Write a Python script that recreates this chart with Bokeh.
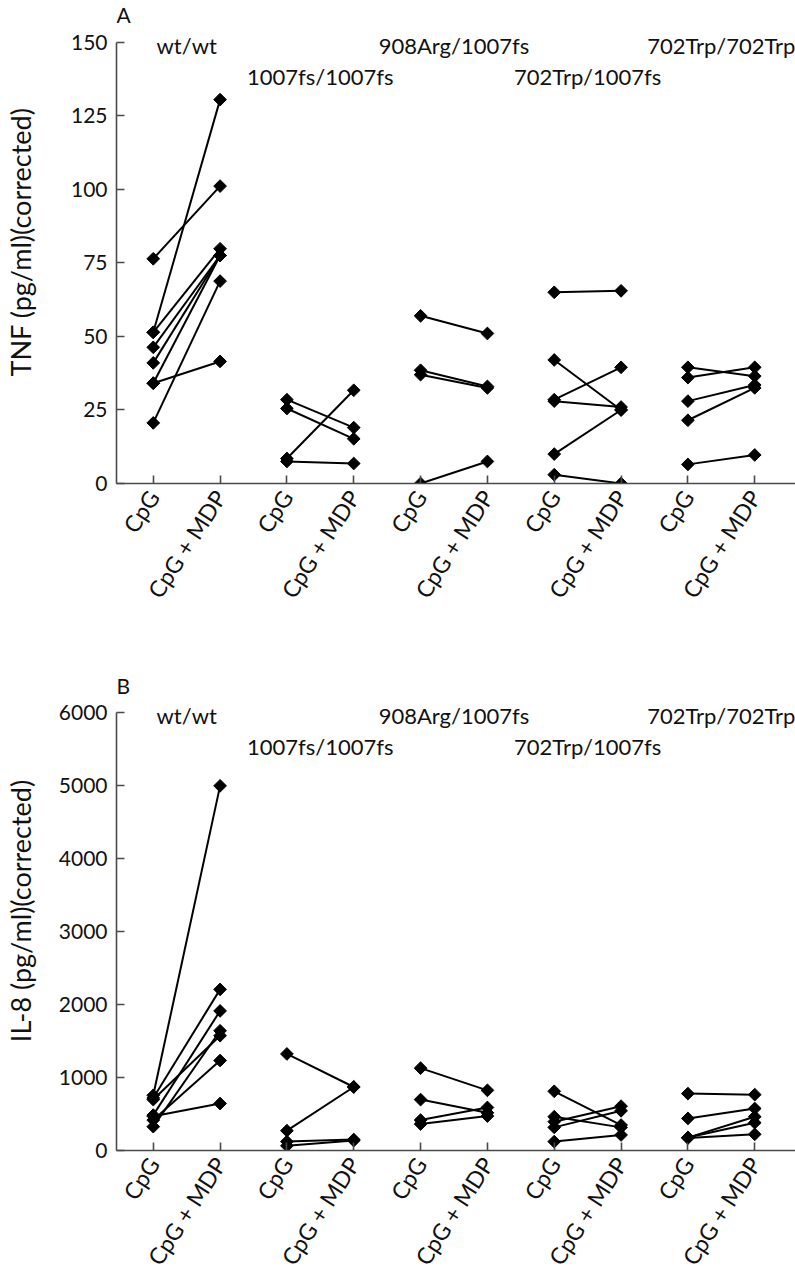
import math
from bokeh.plotting import figure
from bokeh.models import FixedTicker, Range1d, LabelSet, Label, ColumnDataSource
from bokeh.core.properties import value
from bokeh.layouts import column
from bokeh.embed import file_html
from bokeh.resources import INLINE

# ---------------- data ----------------
groups = ["wt/wt", "1007fs/1007fs", "908Arg/1007fs", "702Trp/1007fs", "702Trp/702Trp"]
conditions = ["CpG", "CpG + MDP"]

# Panel A: TNF (pg/ml)(corrected)
tnf_wt_cpg = [76.4, 51.4, 51.4, 46.3, 41.0, 34.1, 34.1, 20.6]
tnf_wt_mdp = [101.1, 130.5, 79.8, 77.5, 77.5, 77.5, 41.5, 68.8]
tnf_1007_cpg = [28.5, 25.5, 8.5, 7.5]
tnf_1007_mdp = [19.0, 15.2, 31.7, 6.8]
tnf_908_cpg = [57.0, 38.5, 37.0, 0.0]
tnf_908_mdp = [51.0, 33.0, 32.5, 7.5]
tnf_702het_cpg = [65.0, 42.0, 28.5, 28.0, 10.0, 3.0]
tnf_702het_mdp = [65.5, 25.0, 39.5, 26.0, 25.0, 0.0]
tnf_702hom_cpg = [39.5, 36.0, 28.0, 21.5, 6.5]
tnf_702hom_mdp = [36.5, 39.5, 33.5, 32.5, 9.7]

# Panel B: IL-8 (pg/ml)(corrected)
il8_wt_cpg = [757, 720, 698, 485, 470, 417, 327]
il8_wt_mdp = [5000, 2209, 1574, 1914, 644, 1234, 1642]
il8_1007_cpg = [1324, 272, 122, 64]
il8_1007_mdp = [871, 871, 150, 136]
il8_908_cpg = [1129, 698, 417, 363]
il8_908_mdp = [825, 517, 590, 472]
il8_702het_cpg = [812, 463, 395, 317, 122]
il8_702het_mdp = [349, 317, 608, 544, 213]
il8_702hom_cpg = [780, 440, 177, 177, 170]
il8_702hom_mdp = [766, 576, 463, 381, 222]

tnf_ticks = [0, 25, 50, 75, 100, 125, 150]
il8_ticks = [0, 1000, 2000, 3000, 4000, 5000, 6000]

FONT = "Lato"
AXIS_COLOR = "#4a4a4a"
TEXT_COLOR = "#111111"


def make_panel(letter, cpg_lists, mdp_lists, yticks, ylabel, height, bottom, label_standoff):
    ymax = yticks[-1]
    ytop = ymax * 164.2 / 150  # headroom for the panel letter and genotype titles
    p = figure(width=795, height=height,
               x_range=Range1d(0.45, 10.61), y_range=Range1d(0, ytop),
               output_backend="svg", toolbar_location=None,
               min_border_left=111, min_border_right=0,
               min_border_top=0, min_border_bottom=bottom)
    p.xgrid.visible = False
    p.ygrid.visible = False
    p.outline_line_color = None
    p.background_fill_color = "white"
    p.border_fill_color = "white"

    xs, ys = [], []
    for gi, (cl, ml) in enumerate(zip(cpg_lists, mdp_lists)):
        x0, x1 = 2 * gi + 1, 2 * gi + 2
        for a, b in zip(cl, ml):
            xs.append([x0, x1])
            ys.append([a, b])
    p.multi_line(xs, ys, line_color="black", line_width=2)
    px = [v for pair in xs for v in pair]
    py = [v for pair in ys for v in pair]
    p.scatter(px, py, marker="square", angle=math.pi / 4, size=9,
              fill_color="black", line_color="black")

    # axes
    for ax in (p.xaxis, p.yaxis):
        ax.axis_line_color = AXIS_COLOR
        ax.axis_line_width = 1.6
        ax.major_tick_line_color = AXIS_COLOR
        ax.major_tick_line_width = 1.6
        ax.major_tick_in = 8
        ax.major_tick_out = 0
        ax.minor_tick_line_color = None
        ax.major_label_text_font = FONT
        ax.major_label_text_color = TEXT_COLOR
        ax.major_label_standoff = 9

    p.xaxis.ticker = FixedTicker(ticks=list(range(1, 11)))
    p.xaxis.major_label_overrides = {i: conditions[(i - 1) % 2] for i in range(1, 11)}
    p.xaxis.major_label_orientation = math.radians(57)
    p.xaxis.major_label_text_font_size = "23px"

    p.yaxis.ticker = FixedTicker(ticks=yticks)
    p.yaxis.bounds = (0, ymax)
    p.yaxis.major_label_text_font_size = "21px"
    p.yaxis.axis_label = ylabel
    p.yaxis.axis_label_text_font = FONT
    p.yaxis.axis_label_text_font_size = "27px"
    p.yaxis.axis_label_text_font_style = "normal"
    p.yaxis.axis_label_text_color = TEXT_COLOR
    p.yaxis.axis_label_standoff = label_standoff

    # genotype titles
    src = ColumnDataSource(dict(
        x=[2 * i + 1.5 for i in range(len(groups))],
        y=[ymax * (149 / 150) if i % 2 == 0 else ymax * (138.5 / 150) for i in range(len(groups))],
        text=groups,
    ))
    p.add_layout(LabelSet(x="x", y="y", text="text", source=src,
                          text_align="center", text_baseline="middle",
                          text_font=value(FONT), text_font_size=value("22px"),
                          text_color=TEXT_COLOR))

    p.add_layout(Label(x=0.45, y=ymax * 159.3 / 150, text=letter,
                       text_align="left", text_baseline="middle",
                       text_font=FONT, text_font_size="21px", text_color=TEXT_COLOR))
    return p


pA = make_panel("A",
                [tnf_wt_cpg, tnf_1007_cpg, tnf_908_cpg, tnf_702het_cpg, tnf_702hom_cpg],
                [tnf_wt_mdp, tnf_1007_mdp, tnf_908_mdp, tnf_702het_mdp, tnf_702hom_mdp],
                tnf_ticks, "TNF (pg/ml)(corrected)", 671, 188, 31)
pB = make_panel("B",
                [il8_wt_cpg, il8_1007_cpg, il8_908_cpg, il8_702het_cpg, il8_702hom_cpg],
                [il8_wt_mdp, il8_1007_mdp, il8_908_mdp, il8_702het_mdp, il8_702hom_mdp],
                il8_ticks, "IL-8 (pg/ml)(corrected)", 609, 126, 19)

layout = column(pA, pB)
open("out.html", "w").write(file_html(layout, INLINE))
